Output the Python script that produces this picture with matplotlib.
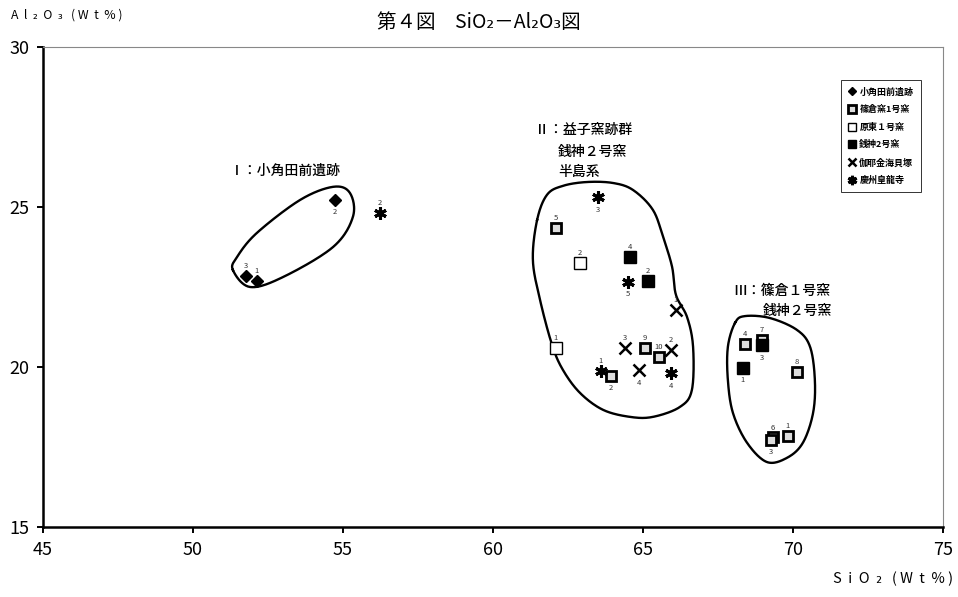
import numpy as np
import matplotlib
matplotlib.use("Agg")
import matplotlib.pyplot as plt
from matplotlib import rcParams

rcParams.update({
    "font.family": ["Noto Sans CJK JP", "DejaVu Sans"],
    "font.size": 10,
})

# --- data (SiO2, Al2O3 wt%) ---
kakuda_x = [51.77, 52.13, 54.73]
kakuda_y = [22.84, 22.69, 25.22]
kakuda_lab = ["3", "1", "2"]

shinokura_x = [62.10, 65.07, 65.53, 63.93, 68.40, 68.97, 70.13, 69.83, 69.33, 69.27]
shinokura_y = [24.34, 20.60, 20.31, 19.72, 20.72, 20.85, 19.84, 17.84, 17.80, 17.72]
shinokura_lab = ["5", "9", "10", "2", "4", "7", "8", "1", "6", "3"]

harato_x = [62.90, 62.10]
harato_y = [23.25, 20.60]
harato_lab = ["2", "1"]

zenigami_x = [64.57, 65.17, 68.97, 68.33]
zenigami_y = [23.44, 22.69, 20.68, 19.97]
zenigami_lab = ["4", "2", "3", "1"]

gaya_x = [66.10, 64.40, 65.93, 64.87]
gaya_y = [21.78, 20.60, 20.53, 19.90]
gaya_lab = ["1", "3", "2", "4"]

keishu_x = [56.23, 63.50, 64.50, 63.60, 65.93]
keishu_y = [24.81, 25.31, 22.66, 19.87, 19.81]
keishu_lab = ["2", "3", "5", "1", "4"]

# hand-drawn group outlines
group1_x = [51.33, 51.90, 53.00, 54.67, 55.33, 55.23, 54.67, 53.57, 52.13, 51.47]
group1_y = [23.03, 22.50, 22.81, 23.75, 24.69, 25.44, 25.63, 25.22, 24.19, 23.44]
group2_x = [61.47, 61.80, 62.33, 63.13, 64.00, 64.67, 65.33, 65.67, 65.97, 66.10, 66.47,
            66.67, 66.63, 66.23, 65.33, 64.57, 63.67, 62.90, 62.33, 61.97, 61.57, 61.33]
group2_y = [24.59, 25.38, 25.66, 25.78, 25.75, 25.53, 24.91, 24.06, 23.13, 22.25, 21.56,
            20.63, 19.28, 18.75, 18.44, 18.44, 18.66, 19.19, 19.91, 20.69, 22.09, 23.34]
group3_x = [68.07, 68.40, 69.23, 70.13, 70.57, 70.73, 70.67, 70.33, 69.80, 69.13, 68.47,
            68.00, 67.83, 67.83]
group3_y = [21.38, 21.59, 21.53, 21.16, 20.63, 19.59, 18.56, 17.63, 17.16, 17.03, 17.63,
            18.56, 19.59, 20.63]


def closed_curve(xs, ys, n=24):
    # periodic Catmull-Rom through the outline points
    p = np.column_stack([xs, ys])
    m = len(p)
    out = []
    t = np.linspace(0, 1, n, endpoint=False)[:, None]
    for i in range(m):
        p0, p1, p2, p3 = p[i - 1], p[i], p[(i + 1) % m], p[(i + 2) % m]
        seg = 0.5 * ((2 * p1) + (-p0 + p2) * t + (2 * p0 - 5 * p1 + 4 * p2 - p3) * t ** 2
                     + (-p0 + 3 * p1 - 3 * p2 + p3) * t ** 3)
        out.append(seg)
    out = np.vstack(out + [p[:1]])
    return out[:, 0], out[:, 1]


def label_points(ax, xs, ys, labs, below=()):
    for x, y, s in zip(xs, ys, labs):
        dy = -9 if s in below else 7
        ax.annotate(s, (x, y), textcoords="offset points", xytext=(0, dy),
                    ha="center", va="center", fontsize=5.5, color="#333")


fig = plt.figure(figsize=(9.58, 5.97), dpi=100)
ax = fig.add_axes([0.0449, 0.1173, 0.9394, 0.804])

for gx, gy in [(group1_x, group1_y), (group2_x, group2_y), (group3_x, group3_y)]:
    cx, cy = closed_curve(gx, gy)
    ax.plot(cx, cy, color="black", lw=1.7, zorder=1)

ax.plot(kakuda_x, kakuda_y, "D", ls="none", color="black", ms=6, label="小角田前遺跡", zorder=3)
ax.plot(shinokura_x, shinokura_y, "s", ls="none", mfc="#ddd", mec="black", mew=2.0, ms=7,
        label="篠倉窯1号窯", zorder=3)
ax.plot(harato_x, harato_y, "s", ls="none", mfc="white", mec="black", mew=1.0, ms=8,
        label="原東１号窯", zorder=3)
ax.plot(zenigami_x, zenigami_y, "s", ls="none", color="black", ms=8, label="銭神2号窯", zorder=3)
ax.plot(gaya_x, gaya_y, "x", ls="none", color="black", mew=1.8, ms=8, label="伽耶金海貝塚", zorder=3)
ax.plot(keishu_x, keishu_y, marker=(6, 2, 0), ls="none", color="black", mew=2.2, ms=9,
        label="慶州皇龍寺", zorder=3)

label_points(ax, kakuda_x, kakuda_y, kakuda_lab, below=("2",))
label_points(ax, shinokura_x[:4], shinokura_y[:4], shinokura_lab[:4], below=("2",))
label_points(ax, shinokura_x[4:], shinokura_y[4:], shinokura_lab[4:], below=("3",))
label_points(ax, harato_x, harato_y, harato_lab)
label_points(ax, zenigami_x, zenigami_y, zenigami_lab, below=("3", "1"))
label_points(ax, gaya_x, gaya_y, gaya_lab, below=("4",))
label_points(ax, keishu_x, keishu_y, keishu_lab, below=("3", "5", "4"))

# group captions
cap = dict(fontsize=10, va="center", fontweight="medium")
ax.text(53.07, 26.13, "Ⅰ：小角田前遺跡", ha="center", **cap)
ax.text(61.4, 27.41, "Ⅱ：益子窯跡群", ha="left", **cap)
ax.text(62.17, 26.72, "銭神２号窯", ha="left", **cap)
ax.text(62.17, 26.09, "半島系", ha="left", **cap)
ax.text(68.0, 22.38, "Ⅲ：篠倉１号窯", ha="left", **cap)
ax.text(69.0, 21.75, "銭神２号窯", ha="left", **cap)

ax.set_xlim(45, 75)
ax.set_ylim(15, 30)
ax.set_xticks([45, 50, 55, 60, 65, 70, 75])
ax.set_yticks([15, 20, 25, 30])
ax.tick_params(labelsize=13, length=4, width=1.4, direction="out", pad=6)
for s in ["left", "bottom"]:
    ax.spines[s].set_linewidth(1.8)
for s in ["top", "right"]:
    ax.spines[s].set_linewidth(0.8)
    ax.spines[s].set_color("#888")

leg = ax.legend(loc="upper left", bbox_to_anchor=(0.882, 0.94), fontsize=6.5,
                frameon=True, fancybox=False, edgecolor="black", handlelength=0.8,
                handletextpad=0.4, labelspacing=0.95, borderpad=0.8, markerscale=0.75,
                prop={"weight": "bold", "size": 6.5})
leg.get_frame().set_linewidth(0.7)

fig.text(0.5, 0.963, "第４図　SiO₂－Al₂O₃図", ha="center", va="center", fontsize=14)
fig.text(0.012, 0.975, "A  l  ₂  O  ₃   ( W  t  % )", ha="left", va="center", fontsize=8.8)
fig.text(0.869, 0.03, "S  i  O  ₂   ( W  t  % )", ha="left", va="center", fontsize=10.5)

fig.savefig("out.png", dpi=100)
